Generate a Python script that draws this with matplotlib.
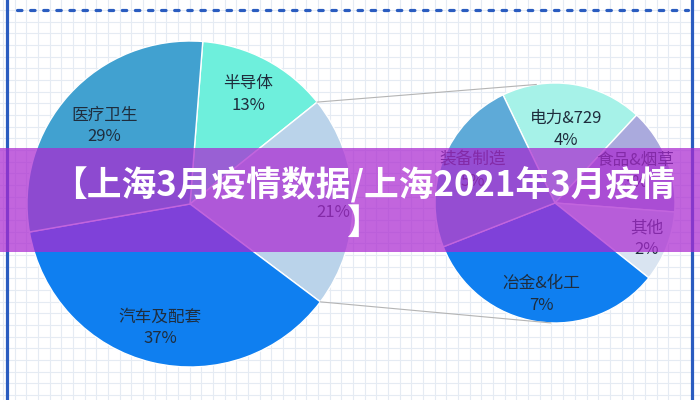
"""
Pie-of-pie chart: 上海3月 industry share, with title banner overlay.
"""
import matplotlib
matplotlib.use("Agg")
import matplotlib.pyplot as plt
import numpy as np
from matplotlib.patches import Rectangle

plt.rcParams["font.family"] = ["Noto Sans CJK SC", "DejaVu Sans"]

# ── data ──────────────────────────────────────────────────────────────────────
main_labels = ["半导体", " ", "汽车及配套", "医疗卫生"]
main_values = [13, 21, 37, 29]
main_colors = ["#6eefdc", "#bad3ea", "#0f7ff0", "#41a1d0"]

sub_labels = ["电力&729", "食品&烟草", "其他", "冶金&化工", "装备制造"]
sub_values = [4, 3, 2, 7, 5]
sub_colors = ["#a6f2e8", "#aaaadd", "#d9e4f1", "#0f7ff0", "#5eaad8"]

title = "【上海3月疫情数据/上海2021年3月疫情\n】"

TEXT = "#1f2d3d"
FRAME = "#2a5cc0"

# ── figure ────────────────────────────────────────────────────────────────────
fig = plt.figure(figsize=(7, 4), dpi=100)
ax = fig.add_axes([0, 0, 1, 1])
for s in ax.spines.values():
    s.set_visible(False)

# ── pies ──────────────────────────────────────────────────────────────────────
c1, r1 = (190, 196), 163
c2, r2 = (555, 197), 120

w1, _ = ax.pie(main_values, colors=main_colors, startangle=85.5,
               counterclock=False, center=c1, radius=r1, frame=True,
               wedgeprops=dict(edgecolor="white", linewidth=1))
w2, _ = ax.pie(sub_values, colors=sub_colors, startangle=115.7,
               counterclock=False, center=c2, radius=r2, frame=True,
               wedgeprops=dict(edgecolor="white", linewidth=1))
ax.set_xlim(0, 700)
ax.set_ylim(0, 400)
ax.set_aspect("equal")

# background grid
ax.set_xticks([])
ax.set_yticks([])
ax.set_xticks(np.arange(3, 700, 11.67), minor=True)
ax.set_yticks(np.arange(5, 400, 11.67), minor=True)
ax.grid(which="minor", color="#e5ebf3", linewidth=0.8)
ax.tick_params(which="both", length=0, labelbottom=False, labelleft=False)
ax.set_axisbelow(True)

# frame: side bars + dotted top rule
ax.plot([7, 7], [0, 400], color=FRAME, lw=2.3, zorder=2)
ax.plot([692, 692], [0, 400], color=FRAME, lw=2.3, zorder=2)
ax.plot([17, 688], [390, 390], color=FRAME, lw=2.3,
        linestyle=(0, (1.4, 2.7)), dash_capstyle="round", zorder=2)


def put_labels(wedges, labels, values, center, radius, dists):
    for w, lab, v, d in zip(wedges, labels, values, dists):
        mid = np.deg2rad((w.theta1 + w.theta2) / 2)
        x = center[0] + d * radius * np.cos(mid)
        y = center[1] + d * radius * np.sin(mid)
        ax.text(x, y, f"{lab}\n{v}%", ha="center", va="center",
                fontsize=12, color=TEXT, linespacing=1.35, zorder=4)


put_labels(w1, main_labels, main_values, c1, r1, [0.76, 0.88, 0.78, 0.71])
put_labels(w2, sub_labels, sub_values, c2, r2, [0.62, 0.72, 0.82, 0.77, 0.74])

# connector lines from the 21% wedge to the second pie
other = w1[1]
for ang, tgt in [(other.theta2, 99), (other.theta1, -92)]:
    a = np.deg2rad(ang)
    b = np.deg2rad(tgt)
    ax.plot([c1[0] + r1 * np.cos(a), c2[0] + r2 * np.cos(b)],
            [c1[1] + r1 * np.sin(a), c2[1] + r2 * np.sin(b)],
            color="#b4b4b4", lw=0.8, zorder=1)

# ── title banner ─────────────────────────────────────────────────────────────
ax.add_patch(Rectangle((0, 148), 700, 104, facecolor=(0.67, 0.16, 0.82),
                       alpha=0.72, edgecolor="none", zorder=5))
ax.text(364, 196, title, ha="center", va="center", fontsize=25,
        fontweight="black", color="white", linespacing=1.08, zorder=6)

fig.savefig("out.png", dpi=100)
